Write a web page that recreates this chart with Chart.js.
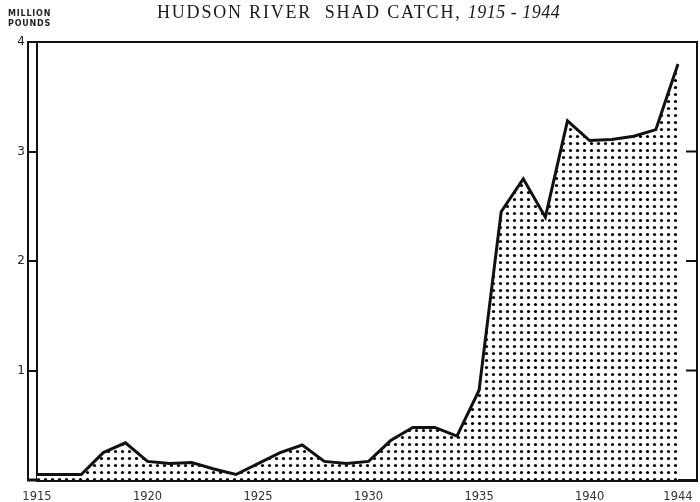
<!DOCTYPE html>
<html>
<head>
<meta charset="utf-8">
<title>Hudson River Shad Catch, 1915 - 1944</title>
<script src="https://cdn.jsdelivr.net/npm/chart.js@4.4.1/dist/chart.umd.min.js"></script>
<style>
    body { margin: 0; background: #fff; }
    #wrap { position: relative; width: 700px; height: 502px; }
    #unit {
        position: absolute; left: 8px; top: 9px;
        font: bold 8px 'DejaVu Sans', sans-serif;
        letter-spacing: 0.8px; line-height: 10px; color: #222;
    }
    #title {
        position: absolute; left: 157px; top: 2px;
        font: 18px 'Liberation Serif', serif;
        letter-spacing: 1.8px; color: #1a1a1a; white-space: nowrap;
    }
    #title i { letter-spacing: 0.5px; }
</style>
</head>
<body>
<div id="wrap">
    <canvas id="shad-chart" width="700" height="502"></canvas>
    <div id="unit">MILLION<br>POUNDS</div>
    <div id="title">HUDSON RIVER&nbsp; SHAD CATCH, <i>1915 - 1944</i></div>
</div>
<script>
// DATA //

const years = [1915, 1916, 1917, 1918, 1919, 1920, 1921, 1922, 1923, 1924,
               1925, 1926, 1927, 1928, 1929, 1930, 1931, 1932, 1933, 1934,
               1935, 1936, 1937, 1938, 1939, 1940, 1941, 1942, 1943, 1944];
const catchMillions = [0.05, 0.05, 0.05, 0.25, 0.34, 0.17, 0.15, 0.16, 0.10, 0.05,
                       0.15, 0.25, 0.32, 0.17, 0.15, 0.17, 0.36, 0.48, 0.48, 0.40,
                       0.82, 2.45, 2.75, 2.40, 3.28, 3.10, 3.11, 3.14, 3.20, 3.80];
const xTickYears = [1915, 1920, 1925, 1930, 1935, 1940, 1944];
const yTickValues = [0, 1, 2, 3, 4];
const rightTickValues = [1, 2, 3];

// DOT PATTERN FILL //

const tile = document.createElement('canvas');
tile.width = 7;
tile.height = 7;
const tctx = tile.getContext('2d');
tctx.fillStyle = '#fff';
tctx.fillRect(0, 0, 7, 7);
tctx.fillStyle = '#000';
tctx.beginPath();
tctx.arc(3.5, 3.5, 1.6, 0, Math.PI * 2);
tctx.fill();
const dots = tctx.createPattern(tile, 'repeat');

// FRAME: double left rule, top and right rules, right ticks //

const framePlugin = {
    id: 'frame',
    afterDraw(chart) {
        const { ctx, chartArea } = chart;
        const { left, right, top, bottom } = chartArea;
        const y = chart.scales.y;
        ctx.save();
        ctx.strokeStyle = '#111';
        ctx.lineWidth = 2;
        ctx.beginPath();
        ctx.moveTo(left - 9, bottom);
        ctx.lineTo(left - 9, top);
        ctx.lineTo(right, top);
        ctx.lineTo(right, bottom);
        rightTickValues.forEach(v => {
            const py = y.getPixelForValue(v);
            ctx.moveTo(right - 11, py);
            ctx.lineTo(right, py);
        });
        ctx.stroke();
        ctx.lineWidth = 3;
        ctx.beginPath();
        ctx.moveTo(left - 10, bottom);
        ctx.lineTo(left, bottom);
        ctx.stroke();
        ctx.restore();
    }
};

// CHART //

const shadChart = new Chart(document.getElementById('shad-chart'), {
    type: 'line',
    data: {
        datasets: [{
            data: years.map((yr, i) => ({ x: yr, y: catchMillions[i] })),
            borderColor: '#111',
            borderWidth: 3,
            backgroundColor: dots,
            fill: 'origin',
            pointRadius: 0,
            tension: 0
        }]
    },
    options: {
        responsive: false,
        animation: false,
        layout: { padding: { top: 42, right: 3, left: 0, bottom: 0 } },
        plugins: {
            legend: { display: false },
            tooltip: { enabled: false }
        },
        scales: {
            x: {
                type: 'linear',
                min: 1915,
                max: 1944.86,
                afterBuildTicks: s => { s.ticks = xTickYears.map(v => ({ value: v })); },
                afterFit: s => { s.height = 22; },
                grid: { display: false },
                border: { display: true, color: '#111', width: 3 },
                ticks: {
                    autoSkip: false,
                    maxRotation: 0,
                    padding: 2,
                    color: '#333',
                    font: { family: 'DejaVu Sans', size: 11.5 },
                    callback: v => String(v)
                }
            },
            y: {
                min: 0,
                max: 4,
                afterBuildTicks: s => { s.ticks = yTickValues.map(v => ({ value: v })); },
                afterFit: s => { s.width = 37; },
                grid: { drawOnChartArea: false, drawTicks: true, tickLength: 9, color: '#111', lineWidth: 2 },
                border: { display: true, color: '#111', width: 2 },
                ticks: {
                    padding: 3,
                    color: '#222',
                    font: { family: 'DejaVu Sans', size: 12 },
                    callback: v => (v === 0 ? '' : String(v))
                }
            }
        }
    },
    plugins: [framePlugin]
});
</script>
</body>
</html>
